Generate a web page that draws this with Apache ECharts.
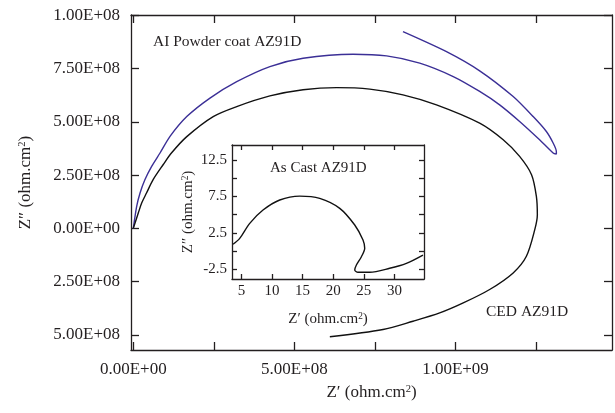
<!DOCTYPE html>
<html>
<head>
<meta charset="utf-8">
<script src="https://cdn.jsdelivr.net/npm/echarts@6/dist/echarts.min.js"></script>
<style>
  html, body { margin: 0; padding: 0; background: #fff; }
  #main-chart { width: 615px; height: 413px; }
</style>
</head>
<body>
<div id="main-chart"></div>
<script>
// Nyquist data, main plot in units of 1e8 ohm.cm2
var aiRe = [0, 0.105, 0.21, 0.36, 0.57, 0.83, 1.14, 1.66, 2.38, 3.21, 4.24, 5.27, 6.82, 7.86, 8.89, 9.93, 10.75, 11.37, 11.99, 12.61, 13.03, 13.13, 13.13, 13.03, 12.82, 12.41, 11.79, 10.75, 9.72, 8.37];
var aiIm = [0, 1.03, 1.66, 2.28, 2.91, 3.54, 4.32, 5.25, 6.12, 6.89, 7.60, 7.99, 8.18, 8.10, 7.76, 7.13, 6.43, 5.80, 5.02, 4.16, 3.54, 3.49, 3.61, 4.01, 4.55, 5.25, 6.19, 7.40, 8.30, 9.24];

var cedRe = [0, 0.155, 0.26, 0.41, 0.62, 0.93, 1.19, 1.66, 2.48, 3.21, 4.24, 5.27, 6.31, 7.34, 8.37, 9.41, 10.75, 11.48, 11.99, 12.36, 12.51, 12.54, 12.46, 12.20, 11.79, 11.06, 10.24, 9.51, 8.68, 7.75, 6.10];
var cedIm = [0, 0.72, 1.19, 1.66, 2.30, 3.00, 3.55, 4.31, 5.25, 5.72, 6.22, 6.51, 6.61, 6.54, 6.27, 5.80, 4.94, 4.16, 3.38, 2.52, 1.50, 0.64, -0.06, -1.31, -2.09, -2.87, -3.50, -3.97, -4.36, -4.75, -5.09];

// inset, ohm.cm2
var castRe = [3.63, 4.72, 6.36, 8.53, 11.26, 14.53, 17.8, 21.07, 23.52, 24.87, 25.15, 24.61, 23.79, 23.52, 24.05, 25.96, 29.23, 31.96, 34.67];
var castIm = [0.93, 1.75, 3.81, 5.63, 7.01, 7.55, 7.24, 5.87, 3.58, 1.52, 0.38, -0.77, -1.91, -2.60, -2.91, -2.91, -2.36, -1.68, -0.54];

// tick labels
var mainXTicks = [0, 2.5, 5, 7.5, 10, 12.5];
var mainXLabelVals = [0, 5, 10];
var mainXLabels = ['0.00E+00', '5.00E+08', '1.00E+09'];
var mainYTicks = [-5, -2.5, 0, 2.5, 5, 7.5, 10];
var mainYLabels = ['5.00E+08', '2.50E+08', '0.00E+00', '2.50E+08', '5.00E+08', '7.50E+08', '1.00E+08'];
var insetXTicks = [5, 10, 15, 20, 25, 30];
var insetYTicks = [-2.5, 0, 2.5, 5, 7.5, 10, 12.5];
var insetYLabelVals = [-2.5, 2.5, 7.5, 12.5];

var serif = '"Liberation Serif", "DejaVu Serif", serif';
var ink = '#231f20';

function pairs(xs, ys) {
    return xs.map(function (x, i) { return [x, ys[i]]; });
}

function boxAxis(opt) {
    // one side of a framed plot, ticks pointing inward
    var a = {
        type: 'value',
        gridIndex: opt.grid,
        min: opt.min,
        max: opt.max,
        position: opt.position,
        splitLine: { show: false },
        axisLine: { show: true, onZero: false, lineStyle: { color: ink, width: 1.3 } },
        axisTick: { show: true, inside: true, length: opt.tickLen, customValues: opt.ticks, lineStyle: { color: ink, width: 1.3 } },
        axisLabel: { show: false }
    };
    if (opt.labels) {
        a.axisLabel = {
            show: true,
            customValues: opt.labelVals,
            margin: opt.margin,
            fontFamily: serif,
            fontSize: opt.fontSize,
            color: ink,
            formatter: opt.labels
        };
    }
    if (opt.name) {
        a.name = opt.name;
        a.nameLocation = 'middle';
        a.nameGap = opt.nameGap;
        a.nameTextStyle = {
            fontFamily: serif, fontSize: opt.nameSize, color: ink,
            rich: { sup: { fontFamily: serif, fontSize: opt.nameSize * 0.62, color: ink, verticalAlign: 'top', lineHeight: opt.nameSize * 0.9 } }
        };
    }
    return a;
}

var chart = echarts.init(document.getElementById('main-chart'));

var option = {
    backgroundColor: '#fff',
    animation: false,
    grid: [
        { left: 131, right: 3, top: 15, bottom: 63 },
        { left: 232, width: 192, top: 145, height: 134, show: true, backgroundColor: '#fff', borderWidth: 0 }
    ],
    xAxis: [
        boxAxis({ grid: 0, min: -0.071, max: 14.857, position: 'bottom', tickLen: 8, ticks: mainXTicks,
            labelVals: mainXLabelVals, margin: 11, fontSize: 17,
            labels: function (v) { return mainXLabels[mainXLabelVals.indexOf(v)]; },
            name: 'Z′ (ohm.cm{sup|2})', nameGap: 34, nameSize: 17 }),
        boxAxis({ grid: 0, min: -0.071, max: 14.857, position: 'top', tickLen: 8, ticks: mainXTicks }),
        boxAxis({ grid: 1, min: 3.46, max: 34.84, position: 'bottom', tickLen: 5, ticks: insetXTicks,
            labelVals: insetXTicks, margin: 5, fontSize: 15,
            labels: function (v) { return String(v); },
            name: 'Z′ (ohm.cm{sup|2})', nameGap: 33, nameSize: 15 }),
        boxAxis({ grid: 1, min: 3.46, max: 34.84, position: 'top', tickLen: 5, ticks: insetXTicks })
    ],
    yAxis: [
        boxAxis({ grid: 0, min: -5.71, max: 10.02, position: 'left', tickLen: 8, ticks: mainYTicks,
            labelVals: mainYTicks, margin: 11, fontSize: 17,
            labels: function (v) { return mainYLabels[mainYTicks.indexOf(v)]; },
            name: 'Z″ (ohm.cm{sup|2})', nameGap: 97, nameSize: 17 }),
        boxAxis({ grid: 0, min: -5.71, max: 10.02, position: 'right', tickLen: 8, ticks: mainYTicks }),
        boxAxis({ grid: 1, min: -3.83, max: 14.56, position: 'left', tickLen: 5, ticks: insetYTicks,
            labelVals: insetYLabelVals, margin: 5, fontSize: 15,
            labels: function (v) { return String(v); },
            name: 'Z″ (ohm.cm{sup|2})', nameGap: 36, nameSize: 15 }),
        boxAxis({ grid: 1, min: -3.83, max: 14.56, position: 'right', tickLen: 5, ticks: insetYTicks })
    ],
    graphic: [
        { type: 'text', left: 153, top: 34, style: { text: 'AI Powder coat AZ91D', font: '15.5px ' + serif, fill: ink } },
        { type: 'text', left: 270, top: 161, style: { text: 'As Cast AZ91D', font: '15px ' + serif, fill: ink } },
        { type: 'text', left: 486, top: 304, style: { text: 'CED AZ91D', font: '15.5px ' + serif, fill: ink } }
    ],
    series: [
        {
            name: 'AI Powder coat AZ91D', type: 'line', xAxisIndex: 0, yAxisIndex: 0,
            data: pairs(aiRe, aiIm), showSymbol: false, smooth: 0.25,
            lineStyle: { color: '#3b2f96', width: 1.4 }
        },
        {
            name: 'CED AZ91D', type: 'line', xAxisIndex: 0, yAxisIndex: 0,
            data: pairs(cedRe, cedIm), showSymbol: false, smooth: 0.3,
            lineStyle: { color: '#111', width: 1.4 }
        },
        {
            name: 'As Cast AZ91D', type: 'line', xAxisIndex: 2, yAxisIndex: 2,
            data: pairs(castRe, castIm), showSymbol: false, smooth: 0.3,
            lineStyle: { color: '#111', width: 1.4 }
        }
    ]
};

chart.setOption(option);
</script>
</body>
</html>
